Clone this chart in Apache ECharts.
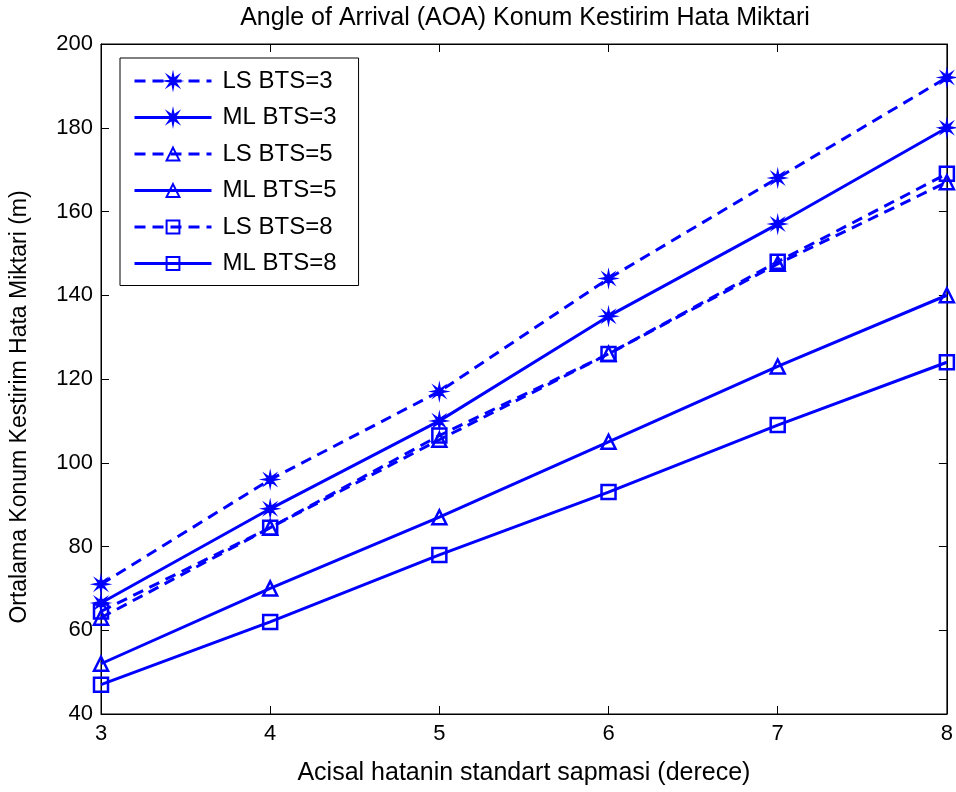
<!DOCTYPE html>
<html>
<head>
<meta charset="utf-8">
<script src="https://cdn.jsdelivr.net/npm/echarts@6/dist/echarts.min.js"></script>
<style>
  html, body { margin: 0; padding: 0; background: #fff; }
  #chart { width: 956px; height: 792px; }
</style>
</head>
<body>
<div id="chart"></div>
<script>
  const xValues = [3, 4, 5, 6, 7, 8];
  const seriesNames = ['LS BTS=3', 'ML BTS=3', 'LS BTS=5', 'ML BTS=5', 'LS BTS=8', 'ML BTS=8'];
  const lsBts3 = [71, 96, 117, 144, 168, 192];
  const mlBts3 = [66.5, 89, 110, 135, 157, 180];
  const lsBts5 = [63, 84.5, 105.5, 126, 147.5, 167];
  const mlBts5 = [52, 70, 87, 105, 123, 140];
  const lsBts8 = [64.5, 84.5, 106.5, 126, 148, 169];
  const mlBts8 = [47, 62, 78, 93, 109, 124];

  const BLUE = '#0000ff';
  const FONT = '"Liberation Sans", Arial, sans-serif';
  // asterisk-like marker, matlab '*' drawn thick
  const STAR = 'path://M0,-10 L1.34,-3.23 L7.07,-7.07 L3.23,-1.34 L10,0 L3.23,1.34 L7.07,7.07 L1.34,3.23 L0,10 L-1.34,3.23 L-7.07,7.07 L-3.23,1.34 L-10,0 L-3.23,-1.34 L-7.07,-7.07 L-1.34,-3.23 Z';

  function makeSeries(name, values, dashed, symbol) {
    const hollow = symbol !== STAR;
    return {
      name: name,
      type: 'line',
      data: values.map((v, i) => [xValues[i], v]),
      symbol: symbol,
      symbolSize: hollow ? 14 : 15,
      showAllSymbol: true,
      lineStyle: { color: BLUE, width: 3, type: dashed ? [11, 7] : 'solid' },
      itemStyle: hollow
        ? { color: 'rgba(255,255,255,0)', borderColor: BLUE, borderWidth: 2.5 }
        : { color: BLUE, borderColor: BLUE, borderWidth: 1.5 },
      emphasis: { disabled: true },
      animation: false,
    };
  }

  const chart = echarts.init(document.getElementById('chart'), null, { renderer: 'canvas' });

  const axisCommon = {
    axisLine: { show: true, lineStyle: { color: '#000', width: 1 } },
    axisTick: { show: true, inside: true, length: 8, lineStyle: { color: '#000' } },
    splitLine: { show: false },
  };

  chart.setOption({
    backgroundColor: '#fff',
    textStyle: { fontFamily: FONT },
    title: {
      text: 'Angle of Arrival (AOA) Konum Kestirim Hata Miktari',
      left: 520,
      textAlign: 'center',
      top: 1,
      textStyle: { fontFamily: FONT, fontSize: 25, fontWeight: 'normal', color: '#000' },
    },
    grid: { left: 101, right: 6, top: 44, bottom: 78, show: true, borderColor: '#000', borderWidth: 1 },
    legend: {
      orient: 'vertical',
      left: 120,
      top: 58,
      padding: [10, 22, 9, 13],
      itemWidth: 77,
      itemHeight: 16,
      itemGap: 10.5,
      backgroundColor: '#fff',
      borderColor: '#000',
      borderWidth: 1,
      lineStyle: { width: 3 },
      textStyle: { fontFamily: FONT, fontSize: 24, color: '#000', lineHeight: 26, padding: [0, 0, 0, 6] },
      data: seriesNames,
    },
    xAxis: [
      Object.assign({}, axisCommon, {
        type: 'value',
        min: 3,
        max: 8,
        interval: 1,
        name: 'Acisal hatanin standart sapmasi (derece)',
        nameLocation: 'middle',
        nameGap: 47,
        nameTextStyle: { fontFamily: FONT, fontSize: 25, color: '#000' },
        axisLabel: { color: '#000', fontSize: 22, margin: 9, fontFamily: FONT },
      }),
      Object.assign({}, axisCommon, {
        type: 'value', position: 'top', min: 3, max: 8, interval: 1,
        axisLabel: { show: false },
      }),
    ],
    yAxis: [
      Object.assign({}, axisCommon, {
        type: 'value',
        min: 40,
        max: 200,
        interval: 20,
        name: 'Ortalama Konum Kestirim Hata Miktari (m)',
        nameLocation: 'middle',
        nameGap: 70,
        nameTextStyle: { fontFamily: FONT, fontSize: 23, color: '#000', padding: [0, 56, 0, 0] },
        axisLabel: { color: '#000', fontSize: 22, margin: 8, fontFamily: FONT },
      }),
      Object.assign({}, axisCommon, {
        type: 'value', position: 'right', min: 40, max: 200, interval: 20,
        axisLabel: { show: false },
      }),
    ],
    series: [
      makeSeries(seriesNames[0], lsBts3, true, STAR),
      makeSeries(seriesNames[1], mlBts3, false, STAR),
      makeSeries(seriesNames[2], lsBts5, true, 'triangle'),
      makeSeries(seriesNames[3], mlBts5, false, 'triangle'),
      makeSeries(seriesNames[4], lsBts8, true, 'rect'),
      makeSeries(seriesNames[5], mlBts8, false, 'rect'),
    ],
  });
</script>
</body>
</html>
